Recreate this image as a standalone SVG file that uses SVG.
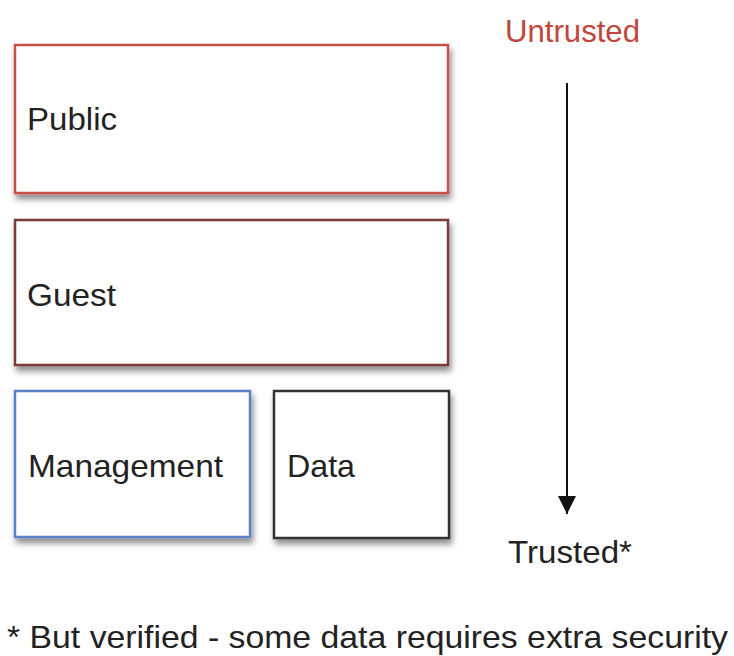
<svg xmlns="http://www.w3.org/2000/svg" width="734" height="656" viewBox="0 0 734 656">
<defs>
<style>
.box{fill:#ffffff;stroke-width:2.5;filter:url(#sh)}
.lbl{font-family:"Liberation Sans",Arial,sans-serif;font-size:32px;fill:#222222}
</style>
<filter id="sh" x="-10%" y="-10%" width="125%" height="130%">
<feDropShadow dx="2" dy="5" stdDeviation="3" flood-color="#000" flood-opacity="0.45"/>
</filter>
<marker id="ah" viewBox="0 0 18 20" refX="18" refY="10" markerWidth="18" markerHeight="20" markerUnits="userSpaceOnUse" orient="auto">
<path d="M0,1 L18,10 L0,19 z" fill="#111"/>
</marker>
</defs>
<rect width="734" height="656" fill="#ffffff"/>
<g id="public">
<rect class="box" x="15" y="45" width="433" height="148" stroke="#c9504a"/>
<text class="lbl" x="27" y="130" textLength="90" lengthAdjust="spacingAndGlyphs">Public</text>
</g>
<g id="guest">
<rect class="box" x="15" y="220" width="433" height="145" stroke="#7a3a3a"/>
<text class="lbl" x="27" y="306" textLength="89" lengthAdjust="spacingAndGlyphs">Guest</text>
</g>
<g id="management">
<rect class="box" x="15" y="391" width="235" height="146" stroke="#5b7fc7"/>
<text class="lbl" x="28" y="477" textLength="195" lengthAdjust="spacingAndGlyphs">Management</text>
</g>
<g id="data">
<rect class="box" x="274" y="391" width="175" height="147" stroke="#333333"/>
<text class="lbl" x="287" y="477" textLength="68" lengthAdjust="spacingAndGlyphs">Data</text>
</g>
<g id="untrusted">
<text class="lbl" x="505" y="42" style="fill:#c0453a" textLength="135" lengthAdjust="spacingAndGlyphs">Untrusted</text>
</g>
<g id="trusted">
<text class="lbl" x="508" y="563" textLength="124" lengthAdjust="spacingAndGlyphs">Trusted*</text>
</g>
<g id="connectors">
<line x1="567" y1="83" x2="567" y2="514" stroke="#111" stroke-width="2" marker-end="url(#ah)"/>
</g>
<text class="lbl" x="7" y="648" textLength="721" lengthAdjust="spacingAndGlyphs">* But verified - some data requires extra security</text>
</svg>
